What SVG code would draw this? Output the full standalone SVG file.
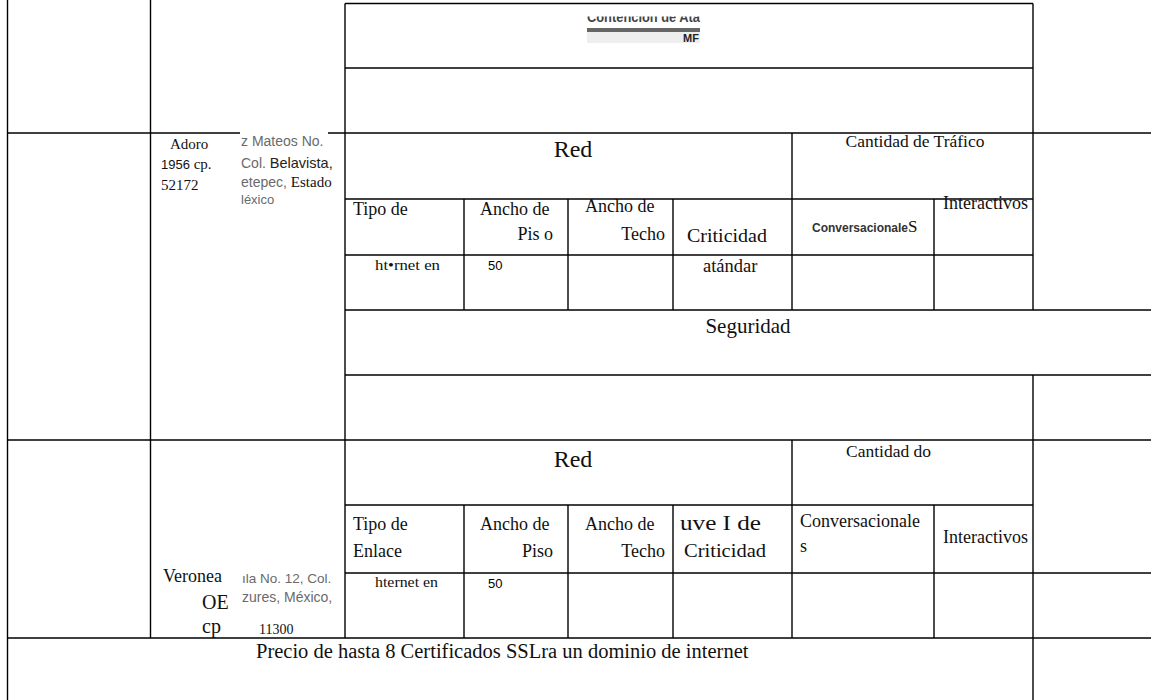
<svg xmlns="http://www.w3.org/2000/svg" width="1151" height="700" viewBox="0 0 1151 700">
<style>
.ln{stroke:#000;stroke-width:1.4;fill:none}
.t{font-family:"Liberation Serif","Times New Roman",serif;fill:#111}
.s{font-family:"Liberation Sans",Arial,sans-serif}
.g{fill:#6a6a6a}
.h{font-size:18px}
</style>
<defs>
<clipPath id="clipTop"><rect x="585" y="16.5" width="120" height="30"/></clipPath>
</defs>
<rect width="1151" height="700" fill="#fff"/>
<g id="grid" class="ln">
<line x1="7.5" y1="0" x2="7.5" y2="700"/>
<line x1="150.5" y1="0" x2="150.5" y2="638"/>
<line x1="345" y1="3.5" x2="345" y2="638"/>
<line x1="1033" y1="3.5" x2="1033" y2="310"/>
<line x1="1033" y1="375" x2="1033" y2="700"/>
<line x1="792" y1="133" x2="792" y2="310"/>
<line x1="792" y1="440" x2="792" y2="638"/>
<line x1="464" y1="199" x2="464" y2="310"/>
<line x1="568" y1="199" x2="568" y2="310"/>
<line x1="673" y1="199" x2="673" y2="310"/>
<line x1="934" y1="199" x2="934" y2="310"/>
<line x1="464" y1="505" x2="464" y2="638"/>
<line x1="568" y1="505" x2="568" y2="638"/>
<line x1="673" y1="505" x2="673" y2="638"/>
<line x1="934" y1="505" x2="934" y2="638"/>
<line x1="345" y1="3.5" x2="1033" y2="3.5"/>
<line x1="345" y1="68" x2="1033" y2="68"/>
<line x1="7.5" y1="133" x2="1151" y2="133"/>
<line x1="345" y1="199" x2="1033" y2="199"/>
<line x1="345" y1="255" x2="1033" y2="255"/>
<line x1="345" y1="310" x2="1151" y2="310"/>
<line x1="345" y1="375" x2="1151" y2="375"/>
<line x1="7.5" y1="440" x2="1151" y2="440"/>
<line x1="345" y1="505" x2="1033" y2="505"/>
<line x1="345" y1="573" x2="1151" y2="573"/>
<line x1="7.5" y1="638" x2="1151" y2="638"/>
</g>
<g id="top-fragment">
<text class="s" x="587" y="22" font-size="14" font-weight="bold" fill="#444" clip-path="url(#clipTop)" textLength="113" lengthAdjust="spacingAndGlyphs">Contencion de Ata</text>
<rect x="587" y="28" width="113" height="4" fill="#666"/>
<rect x="587" y="32" width="113" height="11" fill="#eee"/>
<text class="s" x="683" y="42" font-size="11" font-weight="bold" fill="#222">MF</text>
</g>
<g id="row1-left">
<text class="t" x="170" y="149" font-size="15">Adoro</text>
<text class="t" x="161" y="169" font-size="15"><tspan class="s" font-size="13">1956</tspan> cp.</text>
<text class="t" x="161" y="190" font-size="15">52172</text>
<rect x="240" y="130" width="88" height="76" fill="#fff"/>
<text class="s g" x="241" y="146" font-size="14">z Mateos No.</text>
<text class="s g" x="241" y="168" font-size="14">Col. <tspan fill="#222" font-size="14.5">Belavista,</tspan></text>
<text class="s g" x="241" y="187" font-size="14">etepec, <tspan class="t" fill="#222" font-size="15">Estado</tspan></text>
<text class="s g" x="241" y="204" font-size="13">léxico</text>
</g>
<g id="row1-red">
<text class="t" x="573" y="157" font-size="24" text-anchor="middle">Red</text>
<text class="t" x="915" y="147" font-size="17.5" text-anchor="middle">Cantidad de Tráfico</text>
<text class="t h" x="353" y="215">Tipo de</text>
<text class="t h" x="480" y="215">Ancho de</text>
<text class="t h" x="553" y="240" text-anchor="end">Pis o</text>
<text class="t h" x="585" y="212">Ancho de</text>
<text class="t h" x="665" y="240" text-anchor="end">Techo</text>
<text class="t h" x="687" y="242" textLength="80" lengthAdjust="spacingAndGlyphs">Criticidad</text>
<text class="s" x="812" y="232" font-size="12" font-weight="bold" fill="#333">Conversacionale<tspan class="t" font-weight="normal" font-size="17" fill="#111">S</tspan></text>
<text class="t h" x="943" y="209">Interactivos</text>
<text class="t" x="375" y="270" font-size="14" textLength="65" lengthAdjust="spacingAndGlyphs">ht•rnet en</text>
<text class="s" x="488" y="270" font-size="13">50</text>
<text class="t" x="703" y="272" font-size="18.5">atándar</text>
</g>
<g id="row1-seguridad">
<text class="t" x="748" y="333" font-size="21" text-anchor="middle">Seguridad</text>
</g>
<g id="row2-left">
<text class="t" x="163" y="582" font-size="18">Veronea</text>
<text class="t" x="202" y="609" font-size="20">OE</text>
<text class="t" x="202" y="633" font-size="20">cp</text>
<text class="s g" x="242" y="583" font-size="13.5">ıla No.  12, Col.</text>
<text class="s g" x="242" y="602" font-size="14">zures, México,</text>
<text class="t" x="259" y="634" font-size="14">11300</text>
</g>
<g id="row2-red">
<text class="t" x="573" y="467" font-size="24" text-anchor="middle">Red</text>
<text class="t" x="846" y="457" font-size="17.5">Cantidad do</text>
<text class="t h" x="353" y="530">Tipo de</text>
<text class="t h" x="353" y="557">Enlace</text>
<text class="t h" x="480" y="530">Ancho de</text>
<text class="t h" x="553" y="557" text-anchor="end">Piso</text>
<text class="t h" x="585" y="530">Ancho de</text>
<text class="t h" x="665" y="557" text-anchor="end">Techo</text>
<text class="t" x="680" y="530" font-size="20" textLength="81" lengthAdjust="spacingAndGlyphs">uve I de</text>
<text class="t h" x="684" y="557" textLength="82" lengthAdjust="spacingAndGlyphs">Criticidad</text>
<text class="t h" x="800" y="527">Conversacionale</text>
<text class="t h" x="800" y="552">s</text>
<text class="t h" x="943" y="543">Interactivos</text>
<text class="t" x="375" y="587" font-size="14" textLength="63" lengthAdjust="spacingAndGlyphs">hternet en</text>
<text class="s" x="488" y="588" font-size="13">50</text>
</g>
<g id="footer">
<text class="t" x="256" y="658" font-size="20.5">Precio de hasta 8 Certificados SSLra un dominio de internet</text>
</g>
</svg>
